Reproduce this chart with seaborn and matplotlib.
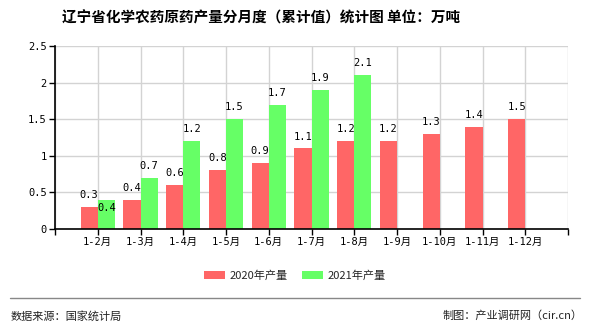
import numpy as np
import pandas as pd
import seaborn as sns
import matplotlib
matplotlib.use("Agg")
import matplotlib.pyplot as plt
from matplotlib.lines import Line2D
from matplotlib.patches import Patch

categories = ["1-2月", "1-3月", "1-4月", "1-5月", "1-6月", "1-7月", "1-8月",
              "1-9月", "1-10月", "1-11月", "1-12月"]
series_names = ["2020年产量", "2021年产量"]
values_2020 = [0.3, 0.4, 0.6, 0.8, 0.9, 1.1, 1.2, 1.2, 1.3, 1.4, 1.5]
values_2021 = [0.4, 0.7, 1.2, 1.5, 1.7, 1.9, 2.1, None, None, None, None]
yticks = [0, 0.5, 1, 1.5, 2, 2.5]
ytick_labels = ["0", "0.5", "1", "1.5", "2", "2.5"]
title = "辽宁省化学农药原药产量分月度（累计值）统计图 单位：万吨"
source_text = "数据来源：国家统计局"
credit_text = "制图：产业调研网（cir.cn）"
colors = ["#FF6666", "#66FF66"]

sns.set_theme(style="white")
plt.rcParams["font.family"] = ["Noto Sans CJK SC", "DejaVu Sans"]
mono = ["DejaVu Sans Mono", "Noto Sans CJK SC"]

df = pd.DataFrame({
    "month": categories * 2,
    "series": [series_names[0]] * len(categories) + [series_names[1]] * len(categories),
    "value": [np.nan if v is None else v for v in values_2020 + values_2021],
})

W, H = 590, 330
fig = plt.figure(figsize=(W / 100, H / 100), dpi=100)
ax = fig.add_axes([55 / W, 1 - 229 / H, (568 - 55) / W, (229 - 46) / H])

sns.barplot(data=df, x="month", y="value", hue="series", order=categories,
            hue_order=series_names, palette=colors, width=0.8, saturation=1,
            ax=ax, legend=False, zorder=3, edgecolor="none", linewidth=0)

ax.set_xlim(-0.98, len(categories))
ax.set_ylim(0, 2.5)
ax.set_xticks(range(-1, len(categories) + 1))
ax.set_xticklabels([""] + categories + [""], fontsize=7.5, family=mono)
ax.set_yticks(yticks)
ax.set_yticklabels(ytick_labels, fontsize=7.5, family=mono)
ax.set_xlabel("")
ax.set_ylabel("")
ax.grid(True, color="#d3d3d3", linewidth=1, zorder=0)
ax.set_axisbelow(True)
for s in ["top", "right"]:
    ax.spines[s].set_visible(False)
for s in ["left", "bottom"]:
    ax.spines[s].set_color("black")
    ax.spines[s].set_linewidth(1.2)
    ax.spines[s].set_zorder(5)
ax.tick_params(axis="both", length=4, width=1, color="black", pad=2, colors="black",
               direction="out", bottom=True, left=True)

# value labels
red_by_x = {}
for p in ax.patches:
    h = p.get_height()
    if np.isnan(h) or h <= 0:
        continue
    if p.get_facecolor()[1] < 0.6:  # red series
        red_by_x[round(p.get_x() + p.get_width(), 3)] = h
for p in ax.patches:
    h = p.get_height()
    if np.isnan(h) or h <= 0:
        continue
    cx = p.get_x() + p.get_width() / 2
    off = 8.6
    if p.get_facecolor()[1] >= 0.6:
        rh = red_by_x.get(round(p.get_x(), 3))
        if rh is not None and h - rh < 0.15:
            off = -5.8
    ax.annotate(f"{h:g}", (cx, h), xytext=(0, off), textcoords="offset points",
                ha="center", va="center", fontsize=7.5, family=mono, color="black",
                zorder=6)

fig.text(261 / W, 1 - 18 / H, title, ha="center", va="center", fontsize=10.5,
         fontweight="bold", color="black")

handles = [Patch(facecolor=c, edgecolor="none") for c in colors]
fig.legend(handles, series_names, loc="center", bbox_to_anchor=(0.5, 1 - 276 / H),
           ncol=2, frameon=False, fontsize=8, handlelength=1.9, handleheight=0.7,
           columnspacing=1.3, handletextpad=0.4)

fig.add_artist(Line2D([10 / W, 580 / W], [1 - 298 / H, 1 - 298 / H], color="#888888",
                      linewidth=1, transform=fig.transFigure))
fig.text(11 / W, 1 - 316 / H, source_text, ha="left", va="center", fontsize=8, color="#222222")
fig.text(583 / W, 1 - 316 / H, credit_text, ha="right", va="center", fontsize=8, color="#222222")

fig.savefig("out.png", dpi=100)
